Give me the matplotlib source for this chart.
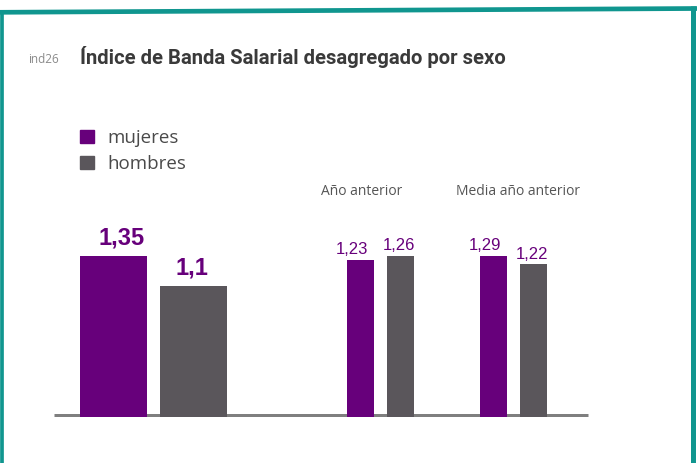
import matplotlib.pyplot as plt
from matplotlib.lines import Line2D

W, H = 697, 464

TITLE = "Índice de Banda Salarial desagregado por sexo"
CODE = "ind26"
SERIES = ["mujeres", "hombres"]
GROUPS = ["", "Año anterior", "Media año anterior"]
mujeres = [1.35, 1.23, 1.29]
hombres = [1.10, 1.26, 1.22]

PURPLE = "#67007b"
GREY = "#5a565b"
TEAL = "#10968f"


def fx(px):
    return px / W


def fy(py):
    return 1 - py / H


def pt(px):
    return px * 72 / 100


def fmt(v):
    return f"{v:.2f}".rstrip("0").rstrip(".").replace(".", ",")


fig = plt.figure(figsize=(W / 100, H / 100), dpi=100)

# teal frame (top edge is slightly tilted in the source)
for xs, ys, lw in [
    ([0, W], [13.3, 9.5], 4.7),
    ([1.8, 1.8], [11, H], 3.7),
    ([692.5, 692.5], [7, H], 5),
]:
    fig.add_artist(Line2D([fx(x) for x in xs], [fy(y) for y in ys], color=TEAL,
                          linewidth=pt(lw), solid_capstyle="butt", zorder=5))

fig.text(fx(28), fy(63), CODE, fontsize=8.5, color="#8a8a8a", family="Open Sans", va="baseline")
fig.text(fx(80), fy(64), TITLE, fontsize=14.6, color="#3a3a3a", weight="bold",
         family=["Liberation Sans Narrow", "Roboto"], va="baseline")

# legend
for i, (name, col) in enumerate(zip(SERIES, [PURPLE, GREY])):
    y0 = 130.7 + i * 26
    fig.patches.append(plt.Rectangle((fx(80), fy(y0 + 13.5)), fx(13.5), 13.5 / H,
                                     transform=fig.transFigure, color=col))
    fig.text(fx(107), fy(y0 + 7), name, fontsize=13.5, color="#4a4a4a",
             family="Open Sans", va="center")

# baseline
fig.add_artist(Line2D([fx(54), fx(588)], [fy(416.3)] * 2, color="#7f7f7f",
                      linewidth=pt(3), solid_capstyle="butt", zorder=-1))

rect = [fx(54), fy(417.7), fx(534), 161 / H]
centers = [99.5, 326.5, 459.5]
offsets = [40, 20, 20]
widths = [67, 27, 27]
group_dx = [0, -18.5, 4]

for g, (m, h) in enumerate(zip(mujeres, hombres)):
    ax = fig.add_axes(rect, label=f"g{g}")
    ax.set_xlim(0, 534)
    ax.set_ylim(0, max(m, h))
    ax.axis("off")
    big = g == 0
    for val, col, sign in [(m, PURPLE, -1), (h, GREY, 1)]:
        x = centers[g] + sign * offsets[g]
        ax.bar(x, val, width=widths[g], color=col, clip_on=False)
        if big:
            dx = 8 if sign < 0 else -1.5
            ax.annotate(fmt(val), (x, val), xytext=(pt(dx), pt(12.5)), textcoords="offset points",
                        ha="center", va="baseline", color=PURPLE, fontsize=17, weight="heavy",
                        family="Liberation Sans", annotation_clip=False)
        else:
            dx = -9 if sign < 0 else -1.5
            ax.annotate(fmt(val), (x, val), xytext=(pt(dx), pt(6.5)), textcoords="offset points",
                        ha="center", va="baseline", color=PURPLE, fontsize=12,
                        family="Liberation Sans", annotation_clip=False)
    if GROUPS[g]:
        ax.annotate(GROUPS[g], (centers[g], max(m, h)), xytext=(pt(group_dx[g]), pt(65)),
                    textcoords="offset points", ha="center", va="center",
                    color="#555555", fontsize=10, family="Open Sans", annotation_clip=False)

fig.savefig("out.png", dpi=100)
